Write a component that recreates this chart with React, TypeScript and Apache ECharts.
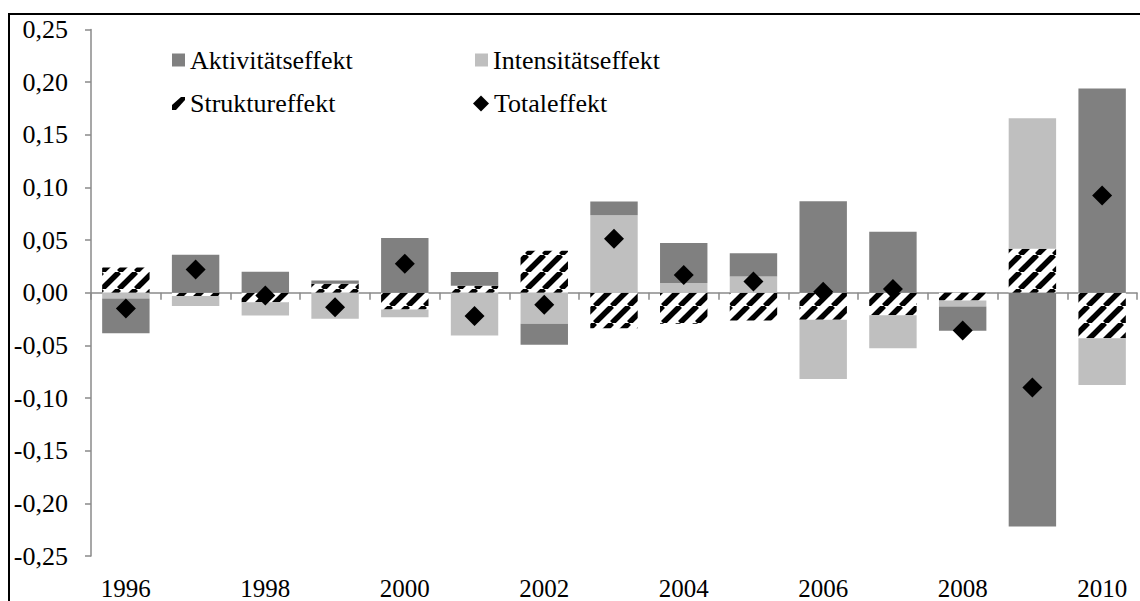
import React, { useEffect, useRef } from "react";
import * as echarts from "echarts";

const years = ["1996","1997","1998","1999","2000","2001","2002","2003","2004","2005","2006","2007","2008","2009","2010"];
const aktivitaet = [-0.033, 0.036, 0.020, 0.003, 0.052, 0.013, -0.020, 0.013, 0.038, 0.022, 0.087, 0.058, -0.023, -0.222, 0.194];
const intensitaet = [-0.0055, -0.0095, -0.0127, -0.0248, -0.0073, -0.0406, -0.0295, 0.0736, 0.0092, 0.0155, -0.0562, -0.0314, -0.0057, 0.1238, -0.0445];
const struktur = [0.024, -0.003, -0.009, 0.0086, -0.016, 0.0067, 0.040, -0.0336, -0.0295, -0.0263, -0.0257, -0.0213, -0.0073, 0.0419, -0.0432];
const total = [-0.015, 0.022, -0.0025, -0.0137, 0.0276, -0.022, -0.0114, 0.0514, 0.0168, 0.0108, 0.001, 0.0035, -0.0359, -0.090, 0.0924];

const FONT = "Liberation Serif";

function makeHatch(): HTMLCanvasElement {
  const s = 17;
  const c = document.createElement("canvas");
  c.width = s;
  c.height = s;
  const ctx = c.getContext("2d")!;
  ctx.fillStyle = "#ffffff";
  ctx.fillRect(0, 0, s, s);
  ctx.strokeStyle = "#000000";
  ctx.lineWidth = 5.5;
  for (const o of [-s, 0, s]) {
    ctx.beginPath();
    ctx.moveTo(o, s);
    ctx.lineTo(o + s, 0);
    ctx.stroke();
  }
  return c;
}

export default function App() {
  const ref = useRef<HTMLDivElement>(null);
  useEffect(() => {
    if (!ref.current) return;
    const chart = echarts.init(ref.current, null, { renderer: "svg" });
    const hatch = makeHatch();
    const hatchColor: any = { image: hatch, repeat: "repeat", imageWidth: 17, imageHeight: 17 };
    const textStyle = { fontFamily: FONT, fontSize: 26, color: "#000", lineHeight: 26 };
    const legendBase = {
      orient: "vertical",
      padding: 0,
      selectedMode: false,
      textStyle,
    };
    chart.setOption({
      animation: false,
      backgroundColor: "#fff",
      textStyle: { fontFamily: FONT },
      grid: { left: 91, right: 3, top: 29.5, bottom: 45, containLabel: false },
      legend: [
        { ...legendBase, left: 172, top: 47, itemWidth: 13, itemHeight: 13, data: [{ name: "Aktivitätseffekt", icon: "rect" }] },
        {
          ...legendBase, left: 172, top: 90.5, itemWidth: 13, itemHeight: 13,
          data: [{ name: "Struktureffekt", icon: "path://M0,13 L0,8 L9,0 L13,0 L13,3 L4,13 Z", itemStyle: { color: "#000" } }],
        },
        { ...legendBase, left: 475, top: 47, itemWidth: 13, itemHeight: 13, data: [{ name: "Intensitätseffekt", icon: "rect" }] },
        { ...legendBase, left: 473, top: 90.5, itemWidth: 16, itemHeight: 16, data: [{ name: "Totaleffekt", icon: "diamond", itemStyle: { color: "#000", opacity: 1 } }] },
      ],
      xAxis: [
        {
          type: "category",
          data: years,
          boundaryGap: true,
          axisLine: { show: true, onZero: true, lineStyle: { color: "#8a8a8a", width: 1.5 } },
          axisTick: { show: true, interval: 0, length: 7, lineStyle: { color: "#8a8a8a", width: 1.5 } },
          axisLabel: { show: false },
          splitLine: { show: false },
        },
        {
          type: "category",
          data: years,
          position: "bottom",
          boundaryGap: true,
          axisLine: { show: false, onZero: false },
          axisTick: { show: false },
          axisLabel: { show: true, interval: 1, margin: 20, fontFamily: FONT, fontSize: 25, color: "#000" },
          splitLine: { show: false },
        },
      ],
      yAxis: {
        type: "value",
        min: -0.25,
        max: 0.25,
        interval: 0.05,
        axisLine: { show: true, lineStyle: { color: "#8a8a8a", width: 1.5 } },
        axisTick: { show: true, length: 6, lineStyle: { color: "#8a8a8a", width: 1.5 } },
        splitLine: { show: false },
        axisLabel: {
          margin: 23,
          fontFamily: FONT,
          fontSize: 26,
          color: "#000",
          formatter: (v: number) => (Math.abs(v) < 1e-9 ? "0,00" : v.toFixed(2).replace(".", ",")),
        },
      },
      series: [
        {
          name: "Struktureffekt",
          type: "bar",
          stack: "s",
          xAxisIndex: 0,
          barCategoryGap: "32%",
          data: struktur,
          itemStyle: { color: hatchColor },
        },
        {
          name: "Intensitätseffekt",
          type: "bar",
          stack: "s",
          xAxisIndex: 0,
          barCategoryGap: "32%",
          data: intensitaet,
          itemStyle: { color: "#bfbfbf" },
        },
        {
          name: "Aktivitätseffekt",
          type: "bar",
          stack: "s",
          xAxisIndex: 0,
          barCategoryGap: "32%",
          data: aktivitaet,
          itemStyle: { color: "#808080" },
        },
        {
          name: "Totaleffekt",
          type: "scatter",
          xAxisIndex: 0,
          symbol: "diamond",
          symbolSize: 20,
          z: 10,
          data: total,
          itemStyle: { color: "#000", opacity: 1 },
        },
      ],
      graphic: [
        {
          type: "rect",
          silent: true,
          z: 100,
          shape: { x: 9, y: 14, width: 1140, height: 600 },
          style: { fill: "none", stroke: "#000", lineWidth: 2 },
        },
      ],
    });
    return () => chart.dispose();
  }, []);
  return <div ref={ref} style={{ position: "absolute", left: 0, top: 0, width: 1140, height: 601 }} />;
}
